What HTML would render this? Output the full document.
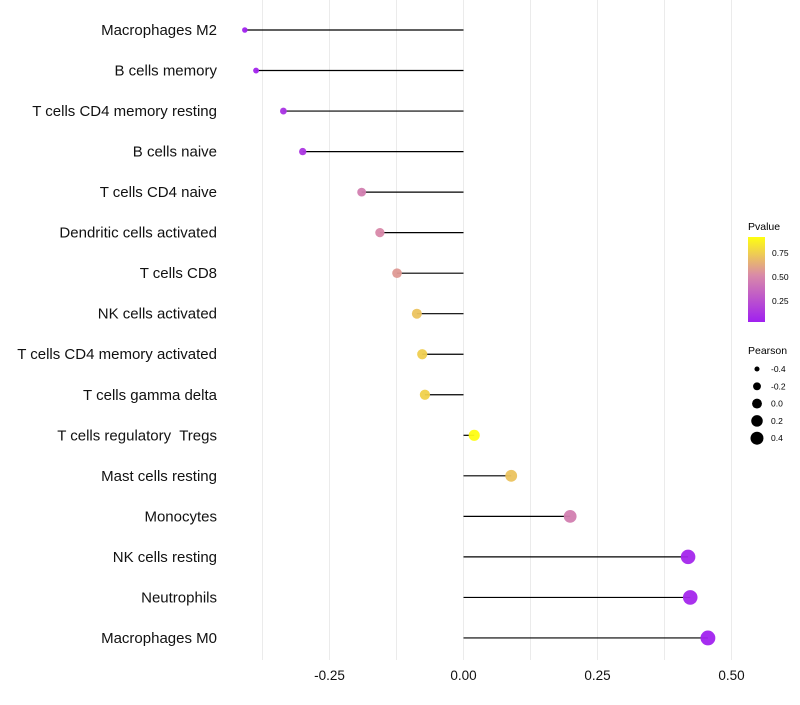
<!DOCTYPE html>
<html><head><meta charset="utf-8"><style>
body{margin:0;background:#fff;font-family:"Liberation Sans",sans-serif}
text{white-space:pre}
</style></head><body>
<svg id="chart" width="800" height="700" xmlns="http://www.w3.org/2000/svg">
<defs><linearGradient id="pg" x1="0" y1="1" x2="0" y2="0">
<stop offset="0" stop-color="#a020f0"/><stop offset="0.55" stop-color="#d98aa8"/><stop offset="1" stop-color="#ffff10"/>
</linearGradient></defs>
<g id="grid"></g><g id="marks"></g><g id="labels"></g>
<g>
<text x="748" y="230" font-size="10.5">Pvalue</text>
<rect x="748" y="237" width="17" height="85" fill="url(#pg)"/>
<text x="772" y="256" font-size="8.5">0.75</text>
<text x="772" y="280" font-size="8.5">0.50</text>
<text x="772" y="304" font-size="8.5">0.25</text>
</g>
<g id="sizeleg">
<text x="748" y="354" font-size="10.5">Pearson</text>
</g>
</svg>
<script>
const categories=["Macrophages M2","B cells memory","T cells CD4 memory resting","B cells naive","T cells CD4 naive","Dendritic cells activated","T cells CD8","NK cells activated","T cells CD4 memory activated","T cells gamma delta","T cells regulatory  Tregs","Mast cells resting","Monocytes","NK cells resting","Neutrophils","Macrophages M0"];
const pearson=[-0.408,-0.387,-0.336,-0.300,-0.190,-0.156,-0.124,-0.087,-0.077,-0.072,0.020,0.089,0.199,0.419,0.423,0.456];
const pvalue=[0.03,0.04,0.10,0.12,0.45,0.50,0.56,0.70,0.74,0.75,0.90,0.70,0.45,0.05,0.05,0.03];
const xTicks=[-0.25,0,0.25,0.5];
const xTickLabels=["-0.25","0.00","0.25","0.50"];
const sizeLegend=[-0.4,-0.2,0.0,0.2,0.4];
const NS="http://www.w3.org/2000/svg";
const X=v=>463.5+v*536;
const Y=i=>30+i*40.53;
const R=v=>Math.sqrt(Math.max(4,30+55*v));
function col(p){const t=Math.max(0,Math.min(1,(p-0.02)/(0.906-0.02)));
 const a=[160,32,240],b=[217,138,168],c=[255,255,16];let r;
 if(t<0.55){const u=t/0.55;r=a.map((x,k)=>x+(b[k]-x)*u)}else{const u=(t-0.55)/0.45;r=b.map((x,k)=>x+(c[k]-x)*u)}
 return `rgb(${r.map(Math.round).join(",")})`;}
function mk(tag,at,parent){const e=document.createElementNS(NS,tag);for(const k in at)e.setAttribute(k,at[k]);parent.appendChild(e);return e;}
const grid=document.getElementById('grid'),marks=document.getElementById('marks'),labels=document.getElementById('labels');
for(let v=-0.375;v<=0.55;v+=0.125){const l=mk('line',{x1:X(v),x2:X(v),y1:0,y2:660,stroke:'#ebebeb','stroke-width':1},grid);

}
xTicks.forEach((v,i)=>{const t=mk('text',{x:X(v),y:680,'font-size':13.5,'text-anchor':'middle',fill:'#111'},labels);t.textContent=xTickLabels[i];

});
categories.forEach((c,i)=>{const t=mk('text',{x:217,y:Y(i)+5,'font-size':15,'text-anchor':'end',fill:'#111'},labels);t.textContent=c;


const l=mk('line',{x1:X(0),x2:X(pearson[i]),y1:Y(i),y2:Y(i),stroke:'#000','stroke-width':1.2},marks);


const p=mk('circle',{cx:X(pearson[i]),cy:Y(i),r:R(pearson[i]),fill:col(pvalue[i]),opacity:0.95},marks);

});
const sl=document.getElementById('sizeleg');
sizeLegend.forEach((v,i)=>{const y=369+i*17.3;const c=mk('circle',{cx:757,cy:y,r:R(v)*0.9,fill:'#000'},sl);


const t=mk('text',{x:771,y:y+3,'font-size':8.5},sl);t.textContent=v.toFixed(1);

});
</script>
</body></html>
